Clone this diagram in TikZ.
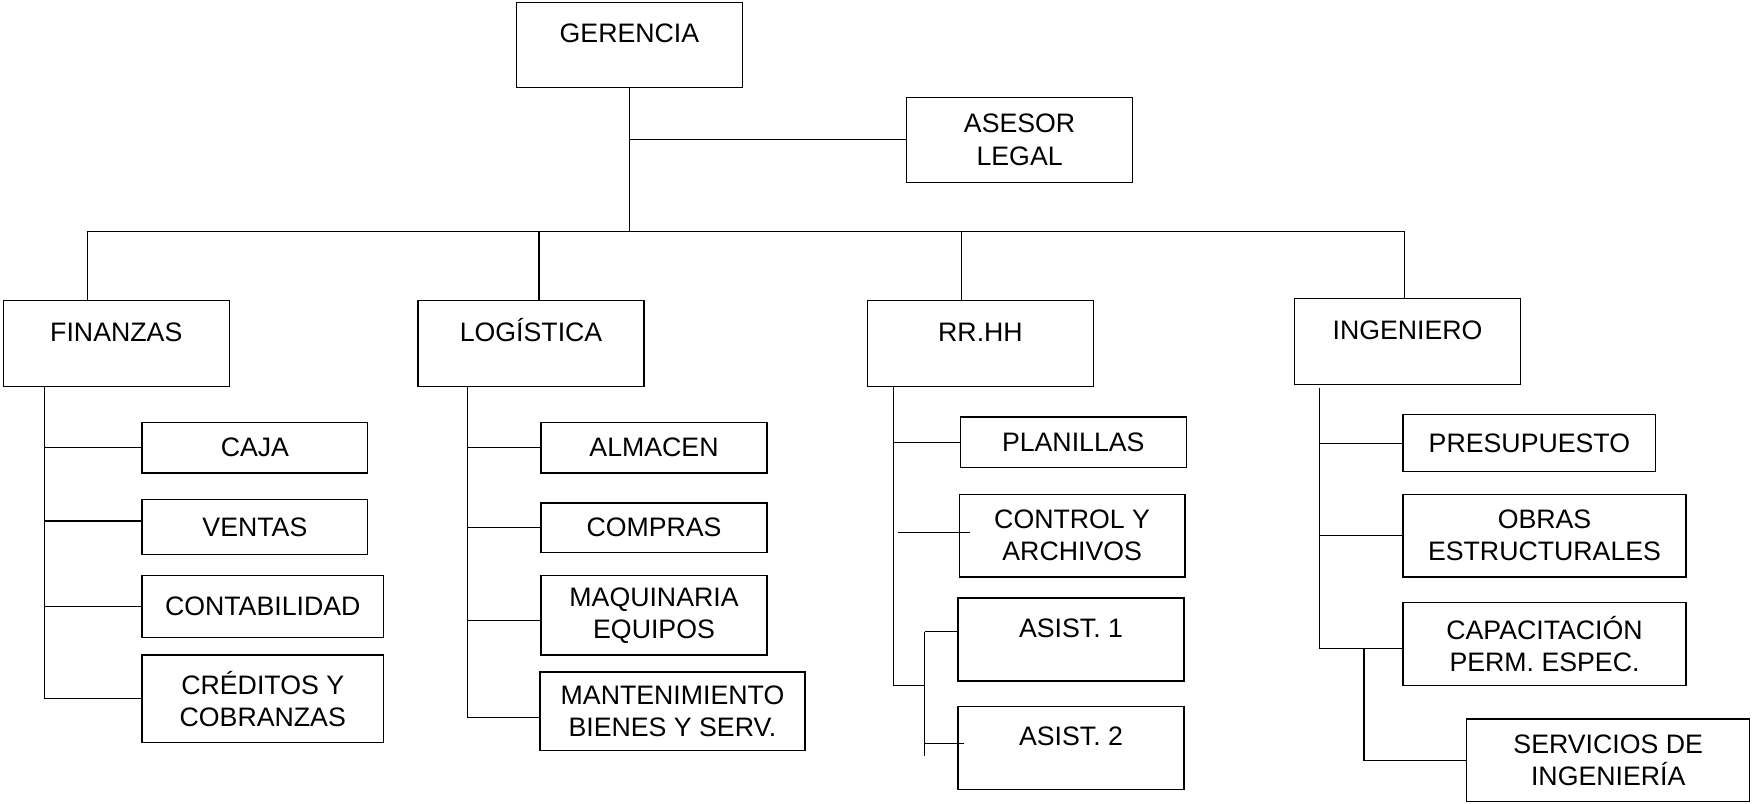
\documentclass[tikz,border=0pt]{standalone}
\usepackage{fontspec}
\setmainfont{Liberation Sans}
\usepackage{tikz}
\usetikzlibrary{positioning}
\newdimen\px
\px=0.2236mm

\begin{document}
\begin{tikzpicture}[x=0.2236mm,y=-0.2236mm,line width=0.75pt,
  every node/.style={font=\fontsize{15.2}{18.4}\selectfont},
  box/.style={draw,rectangle,inner sep=0pt,align=center,minimum width=202\px,minimum height=#1\px},
  wide/.style={minimum width=#1\px},
  top/.style={text height=10.9pt,text depth=13.2pt}]
  \useasboundingbox (0,0) rectangle (1568,719);
  \node (ger) at (563,40)[box=76,top]{GERENCIA};
  \node (ase) at (912,125)[box=76]{ASESOR\\LEGAL};
  \node (fin) at (104,307.5)[box=77,top]{FINANZAS};
  \node (log) at (475,307.5)[box=77,top]{LOGÍSTICA};
  \node (rrhh) at (877,307.5)[box=77,top]{RR.HH};
  \node (ing) at (1259,305.5)[box=77,top]{INGENIERO};

  \node (caja) at (228,400.5)[box=45]{CAJA};
  \node (ven) at (228,471.5)[box=49]{VENTAS};
  \node (cont) at (235,542.5)[box=55,wide=216]{CONTABILIDAD};
  \node (cre) at (235,625)[box=78,wide=216]{CRÉDITOS Y\\COBRANZAS};

  \node (alm) at (585,400.5)[box=45]{ALMACEN};
  \node (com) at (585,472)[box=44]{COMPRAS};
  \node (maq) at (585,550.5)[box=71]{MAQUINARIA\\EQUIPOS};
  \node (man) at (601.5,636)[box=70,wide=237]{MANTENIMIENTO\\BIENES Y SERV.};

  \node (pla) at (960,395.5)[box=45]{PLANILLAS};
  \node (con) at (959,479)[box=74]{CONTROL Y\\ARCHIVOS};
  \node (as1) at (958,572)[box=74,top]{ASIST. 1};
  \node (as2) at (958,669)[box=74,top]{ASIST. 2};

  \node (pre) at (1368,396.5)[box=51,wide=226]{PRESUPUESTO};
  \node (obr) at (1381.5,479)[box=74,wide=253]{OBRAS\\ESTRUCTURALES};
  \node (cap) at (1381.5,576)[box=74,wide=253]{CAPACITACIÓN\\PERM. ESPEC.};
  \node (ser) at (1438.5,680)[box=74,wide=253]{SERVICIOS DE\\INGENIERÍA};

  % bus and drops
  \coordinate (bl) at (78,207);
  \coordinate (bm) at (563,207);
  \coordinate (dl) at (482,207);
  \coordinate (dr) at (860,207);
  \coordinate (br) at (1256,207);
  \draw (ger.south)--(bm);
  \draw (ger.south |- ase.west)--(ase.west);
  \draw (bl)--(br);
  \draw (bl)--(bl |- fin.north);
  \draw (dl)--(dl |- log.north);
  \draw (dr)--(dr |- rrhh.north);
  \draw (br)--(br |- ing.north);

  % finanzas
  \coordinate (tf) at (40,346);
  \draw (tf) |- (cre.west);
  \draw (tf |- caja.west)--(caja.west);
  \draw ([yshift=5.5\px]tf |- ven.west)--([yshift=5.5\px]ven.west);
  \draw (tf |- cont.west)--(cont.west);

  % logistica
  \coordinate (tl) at (418,346);
  \draw (tl) |- ([yshift=-6\px]man.west);
  \draw (tl |- alm.west)--(alm.west);
  \draw (tl |- com.west)--(com.west);
  \draw ([yshift=-4.5\px]tl |- maq.west)--([yshift=-4.5\px]maq.west);

  % rr.hh
  \coordinate (tr) at (799,346);
  \coordinate (j) at (827,613);
  \coordinate (c1) at (803,476);
  \coordinate (a1) at (827,565);
  \coordinate (a2) at (827,676);
  \coordinate (a3) at (827,665);
  \draw (tr) |- (j);
  \draw (tr |- pla.west)--(pla.west);
  \draw (c1)--([xshift=10\px]c1 -| con.west);
  \draw (a1)--(a2);
  \draw (a1)--(a1 -| as1.west);
  \draw (a3)--([xshift=6\px]a3 -| as2.west);

  % ingeniero
  \coordinate (ti) at (1180,347);
  \coordinate (si) at (1220,580);
  \draw (ti) |- ([yshift=-4\px]cap.west);
  \draw (ti |- pre.west)--(pre.west);
  \draw (ti |- obr.west)--(obr.west);
  \draw (si) |- (ser.west);
\end{tikzpicture}
\end{document}
